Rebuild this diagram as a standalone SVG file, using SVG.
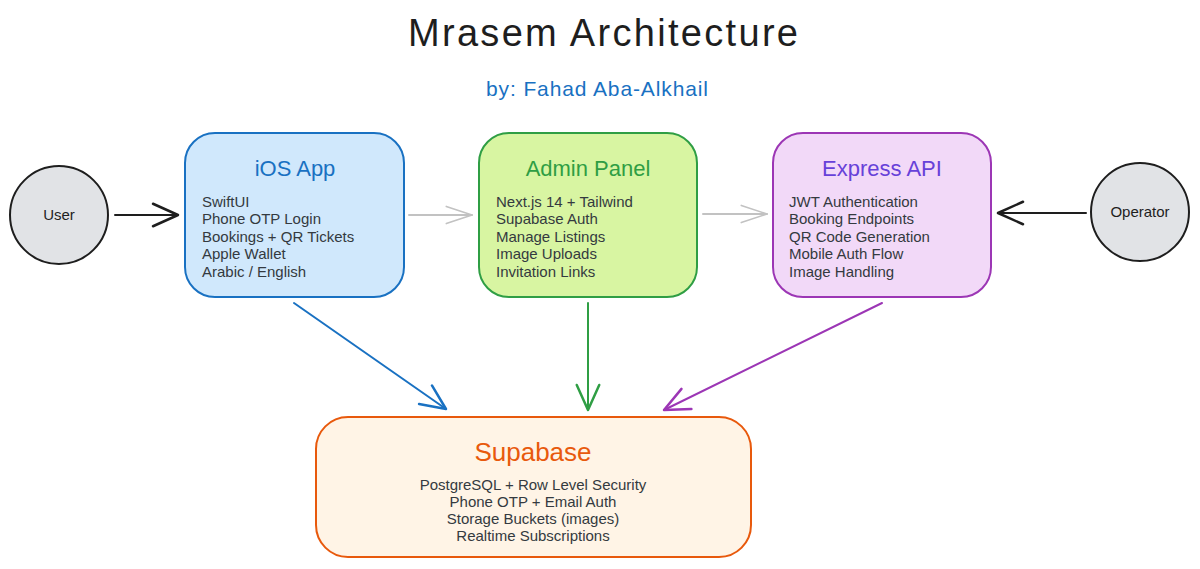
<svg xmlns="http://www.w3.org/2000/svg" width="1200" height="569" viewBox="0 0 1200 569">
<style>
  text { font-family: "Liberation Sans", "DejaVu Sans", sans-serif; }
  .title { font-size: 38px; fill: #1e1e1e; text-anchor: middle; }
  .sub { font-size: 21px; fill: #1971c2; text-anchor: middle; }
  .head { font-size: 22px; text-anchor: middle; }
  .body { font-size: 15px; fill: #343a40; }
  .bodyc { font-size: 15px; fill: #343a40; text-anchor: middle; }
  .box { stroke-width: 2; }
  .circ { fill: #e1e3e6; stroke: #1e1e1e; stroke-width: 2; }
  .lbl { font-size: 15px; fill: #1e1e1e; text-anchor: middle; }
  .conn { fill: none; stroke-width: 2; stroke-linecap: round; }
</style>
<defs>
  <marker id="ahDark" markerUnits="userSpaceOnUse" markerWidth="30" markerHeight="30" viewBox="-22 -12 24 24" refX="0" refY="0" orient="auto">
    <path d="M-20,-9 L0,0 L-20,9" fill="none" stroke="#1e1e1e" stroke-width="2" stroke-linecap="round" stroke-linejoin="round"/>
  </marker>
  <marker id="ahGray" markerUnits="userSpaceOnUse" markerWidth="30" markerHeight="30" viewBox="-26 -12 28 24" refX="0" refY="0" orient="auto">
    <path d="M-24,-8 L0,0 L-24,8" fill="none" stroke="#c2c2c2" stroke-width="1.5" stroke-linecap="round" stroke-linejoin="round"/>
  </marker>
  <marker id="ahBlue" markerUnits="userSpaceOnUse" markerWidth="30" markerHeight="30" viewBox="-22 -12 24 24" refX="0" refY="0" orient="auto">
    <path d="M-20,-9 L0,0 L-20,9" fill="none" stroke="#1971c2" stroke-width="2" stroke-linecap="round" stroke-linejoin="round"/>
  </marker>
  <marker id="ahGreen" markerUnits="userSpaceOnUse" markerWidth="30" markerHeight="30" viewBox="-22 -12 24 24" refX="0" refY="0" orient="auto">
    <path d="M-20,-9 L0,0 L-20,9" fill="none" stroke="#2f9e44" stroke-width="2" stroke-linecap="round" stroke-linejoin="round"/>
  </marker>
  <marker id="ahPurple" markerUnits="userSpaceOnUse" markerWidth="30" markerHeight="30" viewBox="-22 -12 24 24" refX="0" refY="0" orient="auto">
    <path d="M-20,-9 L0,0 L-20,9" fill="none" stroke="#9c36b5" stroke-width="2" stroke-linecap="round" stroke-linejoin="round"/>
  </marker>
</defs>
<rect width="1200" height="569" fill="#ffffff"/>

<g id="title">
  <text class="title" x="603" y="46" textLength="390" lengthAdjust="spacing">Mrasem Architecture</text>
  <text class="sub" x="597" y="96" textLength="222" lengthAdjust="spacing">by: Fahad Aba-Alkhail</text>
</g>

<g id="connectors">
  <path class="conn" d="M115,215 L178,215" stroke="#1e1e1e" marker-end="url(#ahDark)"/>
  <path class="conn" d="M1086,213 L998,213" stroke="#1e1e1e" marker-end="url(#ahDark)"/>
  <path class="conn" d="M409,215 L472,215" stroke="#c2c2c2" stroke-width="1.5" marker-end="url(#ahGray)"/>
  <path class="conn" d="M703,214 L767,214" stroke="#c2c2c2" stroke-width="1.5" marker-end="url(#ahGray)"/>
  <path class="conn" d="M294,303 L446,409" stroke="#1971c2" marker-end="url(#ahBlue)"/>
  <path class="conn" d="M588,303 L588,410" stroke="#2f9e44" marker-end="url(#ahGreen)"/>
  <path class="conn" d="M882,303 L664,410" stroke="#9c36b5" marker-end="url(#ahPurple)"/>
</g>

<g id="user">
  <circle class="circ" cx="59" cy="215" r="49"/>
  <text class="lbl" x="59" y="220">User</text>
</g>

<g id="operator">
  <circle class="circ" cx="1140" cy="212" r="49"/>
  <text class="lbl" x="1140" y="217">Operator</text>
</g>

<g id="ios-app">
  <rect class="box" x="185" y="133" width="219" height="164" rx="30" fill="#d0e8fc" stroke="#1971c2"/>
  <text class="head" x="295" y="176" fill="#1971c2">iOS App</text>
  <text class="body" x="202" y="207">SwiftUI</text>
  <text class="body" x="202" y="224">Phone OTP Login</text>
  <text class="body" x="202" y="242">Bookings + QR Tickets</text>
  <text class="body" x="202" y="259">Apple Wallet</text>
  <text class="body" x="202" y="277">Arabic / English</text>
</g>

<g id="admin-panel">
  <rect class="box" x="479" y="133" width="218" height="164" rx="30" fill="#d8f5a2" stroke="#2f9e44"/>
  <text class="head" x="588" y="176" fill="#2f9e44">Admin Panel</text>
  <text class="body" x="496" y="207">Next.js 14 + Tailwind</text>
  <text class="body" x="496" y="224">Supabase Auth</text>
  <text class="body" x="496" y="242">Manage Listings</text>
  <text class="body" x="496" y="259">Image Uploads</text>
  <text class="body" x="496" y="277">Invitation Links</text>
</g>

<g id="express-api">
  <rect class="box" x="773" y="133" width="218" height="164" rx="30" fill="#f2d9f8" stroke="#9c36b5"/>
  <text class="head" x="882" y="176" fill="#6741d9">Express API</text>
  <text class="body" x="789" y="207">JWT Authentication</text>
  <text class="body" x="789" y="224">Booking Endpoints</text>
  <text class="body" x="789" y="242">QR Code Generation</text>
  <text class="body" x="789" y="259">Mobile Auth Flow</text>
  <text class="body" x="789" y="277">Image Handling</text>
</g>

<g id="supabase">
  <rect class="box" x="316" y="417" width="435" height="140" rx="32" fill="#fff4e6" stroke="#e8590c"/>
  <text class="head" x="533" y="461" fill="#e8590c" style="font-size:26px">Supabase</text>
  <text class="bodyc" x="533" y="490">PostgreSQL + Row Level Security</text>
  <text class="bodyc" x="533" y="507">Phone OTP + Email Auth</text>
  <text class="bodyc" x="533" y="524">Storage Buckets (images)</text>
  <text class="bodyc" x="533" y="541">Realtime Subscriptions</text>
</g>
</svg>
